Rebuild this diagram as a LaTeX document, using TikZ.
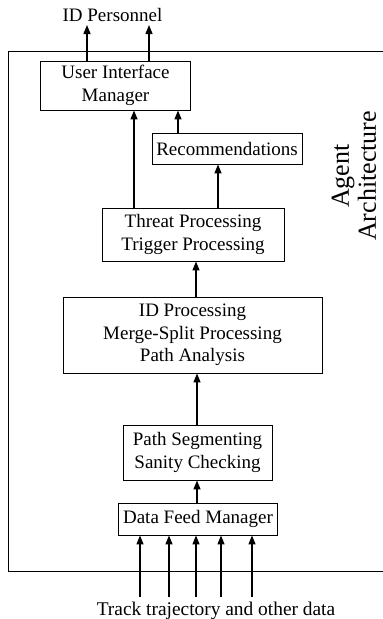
\documentclass[tikz,border=0pt]{standalone}
\usepackage{fontspec}
\setmainfont{Liberation Serif}
\usetikzlibrary{arrows.meta}
\begin{document}
\begin{tikzpicture}[x=1pt,y=-1pt,
  box/.style={draw,line width=0.9pt,inner sep=0pt,align=center,font=\fontsize{19}{22.5}\selectfont},
  lbl/.style={inner sep=0pt,align=center,font=\fontsize{19}{22.5}\selectfont},
  arr/.style={line width=1.3pt,-{Triangle[width=7pt,length=9pt]}},
  frame/.style={line width=0.9pt}]
\useasboundingbox (0,0) rectangle (383,619);
% outer frame (open on the right)
\draw[frame] (383,51) -- (8,51) -- (8,571) -- (383,571);
% nodes
\node[lbl] (idp) at (112.5,15) {ID Personnel};
\node[box,minimum width=150pt,minimum height=49pt] (uim) at (115.5,85.5) {User Interface\\Manager};
\node[box,minimum width=150pt,minimum height=31pt] (rec) at (227,148.5) {Recommendations};
\node[box,minimum width=182pt,minimum height=53pt] (thr) at (193,234.5) {Threat Processing\\Trigger Processing};
\node[box,minimum width=259pt,minimum height=76pt] (idb) at (192.5,335) {ID Processing\\Merge-Split Processing\\Path Analysis};
\node[box,minimum width=149pt,minimum height=55pt] (ps) at (197.5,452.5) {Path Segmenting\\Sanity Checking};
\node[box,minimum width=159pt,minimum height=32pt] (dfm) at (198,519) {Data Feed Manager};
\node[lbl,anchor=base,font=\fontsize{19.4}{22.5}\selectfont] (trk) at (216,615) {Track trajectory and other data};
\node[inner sep=0pt,align=center,rotate=90,font=\fontsize{26}{27}\selectfont] (agent) at (354,176) {Agent\\Architecture};
% coordinates for free ends
\coordinate (o1) at (87,25);
\coordinate (o2) at (149,25);
\foreach \i/\x in {1/140,2/169,3/196,4/221,5/252}{
  \coordinate (in\i) at (\x,597);
}
% connectors
\draw[arr] (uim.north -| o1) -- (o1);
\draw[arr] (uim.north -| o2) -- (o2);
\draw[arr] (thr.north -| 134,0) -- (uim.south -| 134,0);
\draw[arr] (rec.north -| 178,0) -- (uim.south -| 178,0);
\draw[arr] (thr.north -| 218,0) -- (rec.south -| 218,0);
\draw[arr] (idb.north -| 196,0) -- (thr.south -| 196,0);
\draw[arr] (ps.north -| 197,0) -- (idb.south -| 197,0);
\draw[arr] (dfm.north -| 197,0) -- (ps.south -| 197,0);
\foreach \i in {1,...,5}{
  \draw[arr] (in\i) -- (dfm.south -| in\i);
}
\end{tikzpicture}
\end{document}
